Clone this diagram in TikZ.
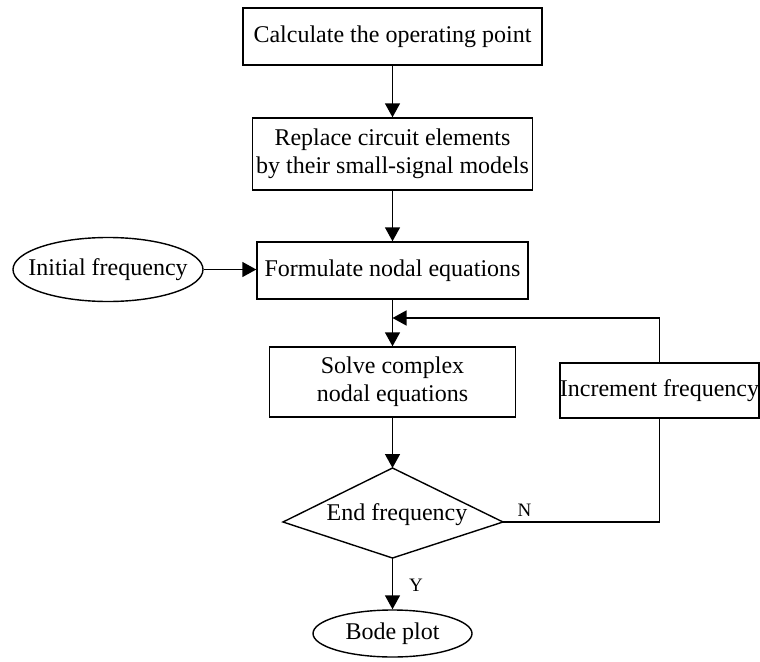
\documentclass[tikz,border=0pt]{standalone}
\usepackage{fontspec}
\setmainfont{Liberation Serif}
\usetikzlibrary{arrows.meta,shapes.geometric}
\begin{document}
\begin{tikzpicture}[x=1pt,y=-1pt,
  every node/.style={font=\fontsize{24}{28}\selectfont},
  procbox/.style={draw,line width=1.4pt,rectangle,inner sep=0pt,align=center},
  termoval/.style={draw,line width=1.4pt,ellipse,inner sep=0pt},
  flow/.style={line width=1.4pt,-{Triangle[length=14pt,width=15pt]}},
  plain/.style={line width=1.4pt},
  branch/.style={font=\fontsize{19}{21}\selectfont}]
\path[use as bounding box] (0,0) rectangle (760,661);

% process boxes
\node[procbox,minimum width=299pt,minimum height=57pt] (op) at (392.5,36.5) {Calculate the operating point};
\node[procbox,minimum width=280pt,minimum height=72pt] (ss) at (392.5,154) {Replace circuit elements\\by their small-signal models};
\node[procbox,minimum width=271pt,minimum height=57pt] (fn) at (392.5,270.5) {Formulate nodal equations};
\node[procbox,minimum width=246pt,minimum height=70pt] (sv) at (392.5,382) {Solve complex\\nodal equations};
\node[procbox,minimum width=199pt,minimum height=55pt] (inc) at (659.5,390.5) {Increment frequency};

% terminals: outline sized independently of the text set inside
\node[termoval,minimum width=190pt,minimum height=64pt] (init) at (108,269.5) {};
\node (initlab) at (init.center) {Initial frequency};
\node[termoval,minimum width=159pt,minimum height=47pt] (bode) at (392.5,633.5) {};
\node (bodelab) at (bode.center) {Bode plot};

% decision
\coordinate (dt) at (392.5,468);
\coordinate (dl) at (283,522);
\coordinate (dr) at (503,522);
\coordinate (db) at (392.5,558);
\draw[plain,line join=miter] (dt) -- (dr) -- (db) -- (dl) -- cycle;
\node (endf) at (397,515) {End frequency};

% main flow
\draw[flow] (op.south) -- (ss.north);
\draw[flow] (ss.south) -- (fn.north);
\draw[flow] (init.east) -- (init.east -| fn.west);
\draw[flow] (fn.south) -- (sv.north);
\draw[flow] (sv.south) -- (dt);
\draw[flow] (db) -- (bode.north);

% loop back
\coordinate (merge) at (392.5,318);
\draw[plain] (dr) -- (dr -| inc.south) -- (inc.south);
\draw[flow] (inc.north) -- (inc.north |- merge) -- (merge);

% branch labels
\node[branch] (nlab) at (524.5,510) {N};
\node[branch] (ylab) at (416,585) {Y};
\end{tikzpicture}
\end{document}
